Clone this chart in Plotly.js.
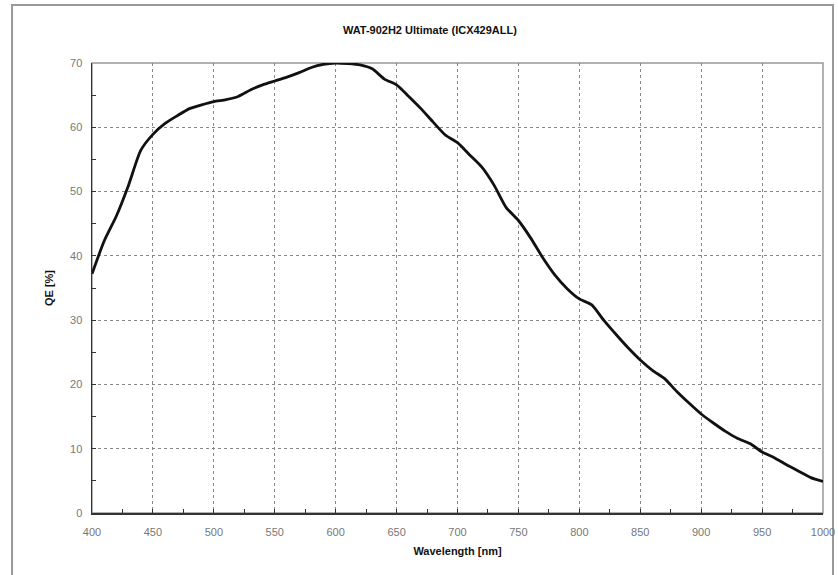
<!DOCTYPE html>
<html>
<head>
<meta charset="utf-8">
<script src="https://cdn.plot.ly/plotly-3.0.1.min.js"></script>
<style>html,body{margin:0;padding:0;background:#fff;}#chart{width:838px;height:575px;}</style>
</head>
<body>
<div id="chart"></div>
<script>
// Wavelength (nm)
const wavelength = [400,410,420,430,440,450,460,470,480,490,500,510,520,530,540,550,560,570,580,590,600,610,620,630,640,650,660,670,680,690,700,710,720,730,740,750,760,770,780,790,800,810,820,830,840,850,860,870,880,890,900,910,920,930,940,950,960,970,980,990,1000];
// Quantum efficiency (%)
const qe = [37.2,42.3,46.2,51.0,56.4,58.9,60.6,61.8,62.9,63.5,64.0,64.3,64.8,65.8,66.6,67.2,67.8,68.5,69.3,69.8,70.0,69.9,69.7,69.1,67.5,66.6,64.8,62.9,60.8,58.8,57.6,55.7,53.8,51.0,47.5,45.5,42.8,39.7,37.0,34.9,33.3,32.4,30.0,27.8,25.7,23.8,22.2,20.9,18.9,17.1,15.4,14.0,12.7,11.6,10.8,9.5,8.6,7.5,6.5,5.5,4.9];
const xTicks = [400,450,500,550,600,650,700,750,800,850,900,950,1000];
const yTicks = [0,10,20,30,40,50,60,70];

const fam = '"Liberation Sans", Arial, sans-serif';
const tickFont = {family: fam, size: 11, color: '#777'};
const boldFont = {family: fam, size: 11, color: '#111', weight: 'bold'};

const trace = {
  x: wavelength, y: qe, type: 'scatter', mode: 'lines',
  line: {color: '#111', width: 2.8, shape: 'spline', smoothing: 0.6},
  hoverinfo: 'x+y'
};

const layout = {
  width: 838, height: 575,
  margin: {l: 92, r: 15, t: 63, b: 62},
  paper_bgcolor: '#fff', plot_bgcolor: '#fff',
  showlegend: false,
  title: {text: '<b>WAT-902H2 Ultimate (ICX429ALL)</b>', font: {family: fam, size: 11, color: '#111'},
          xref: 'container', yref: 'container', x: 0.513, xanchor: 'center', y: 0.948, yanchor: 'middle'},
  xaxis: {
    range: [400, 1000], tickvals: xTicks, ticktext: xTicks.map(String),
    showline: true, linecolor: '#333', linewidth: 1.5,
    ticks: 'inside', ticklen: 4, tickcolor: '#333',
    ticklabelstandoff: 8,
    minor: {dtick: 25, tick0: 400, ticks: 'inside', ticklen: 4, tickcolor: '#333', showgrid: false},
    showgrid: true, gridcolor: '#888', griddash: 'dot', gridwidth: 1,
    zeroline: false, tickfont: tickFont,
    title: {text: '<b>Wavelength [nm]</b>', font: boldFont, standoff: 10}
  },
  yaxis: {
    range: [0, 70], tickvals: yTicks, ticktext: yTicks.map(String),
    showline: true, linecolor: '#333', linewidth: 1.5,
    ticks: 'inside', ticklen: 4, tickcolor: '#333',
    ticklabelstandoff: 6,
    minor: {dtick: 5, tick0: 0, ticks: 'inside', ticklen: 4, tickcolor: '#333', showgrid: false},
    showgrid: true, gridcolor: '#888', griddash: 'dot', gridwidth: 1,
    zeroline: false, tickfont: tickFont,
    title: {text: '<b>QE [%]</b>', font: boldFont, standoff: 14}
  },
  shapes: [
    {type: 'rect', xref: 'paper', yref: 'paper', x0: 0, x1: 1, y0: 0, y1: 1, line: {color: '#999', width: 1.5}, layer: 'below'},
    {type: 'rect', xref: 'paper', yref: 'paper', x0: -0.1094, x1: (833 - 92) / 731, y0: -0.16, y1: 1.129, line: {color: '#999', width: 2}, layer: 'below'}
  ]
};

Plotly.newPlot('chart', [trace], layout, {displayModeBar: false, staticPlot: true});
</script>
</body>
</html>
